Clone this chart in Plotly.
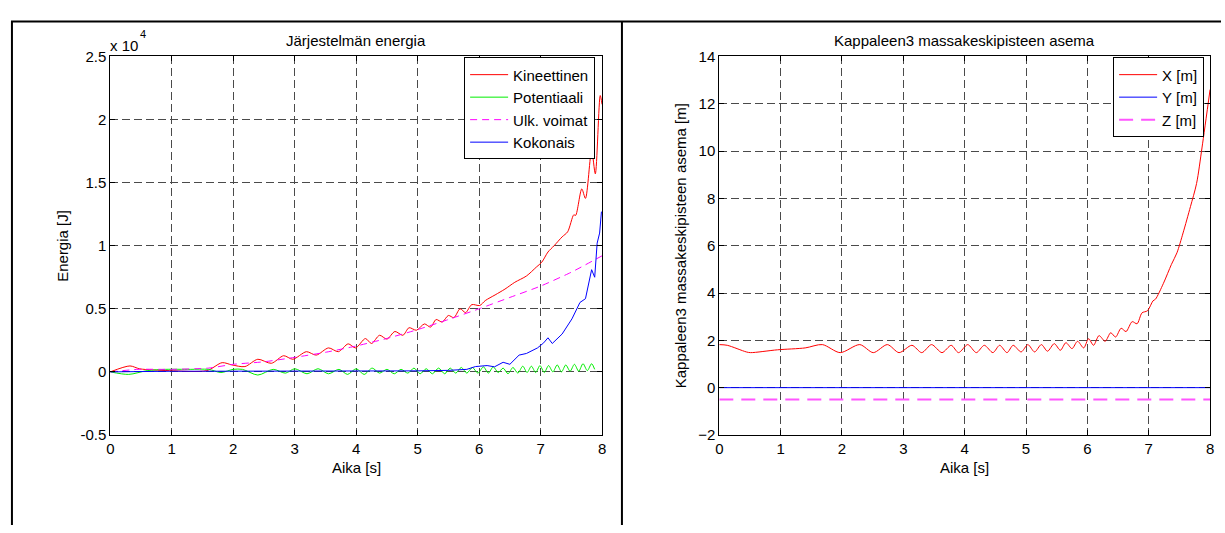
import plotly.graph_objects as go

W, H = 1225, 533

# ---------------- Data: left panel (energy, units of 1e4 J) ----------------
t_kin = [0, 0.32, 0.48, 0.96, 1.57, 1.82, 1.98, 2.19, 2.40, 2.62, 2.82, 2.97, 3.19, 3.35,
         3.55, 3.71, 3.87, 3.99, 4.15, 4.25, 4.38, 4.50, 4.63, 4.76, 4.86, 4.98, 5.11, 5.21,
         5.30, 5.40, 5.50, 5.59, 5.69, 5.78, 5.88, 6.01, 6.10, 6.26, 6.42, 6.58, 6.77, 6.93,
         7.02, 7.12, 7.22, 7.35, 7.44, 7.54, 7.57, 7.67, 7.73, 7.83, 7.89, 7.97, 8.0]
kin = [0, 0.047, 0.024, 0.01, 0.01, 0.073, 0.055, 0.042, 0.10, 0.068, 0.128, 0.10, 0.16, 0.133,
       0.19, 0.16, 0.222, 0.19, 0.264, 0.225, 0.29, 0.26, 0.32, 0.29, 0.35, 0.33, 0.38, 0.355,
       0.415, 0.395, 0.447, 0.43, 0.50, 0.47, 0.533, 0.526, 0.565, 0.61, 0.656, 0.71, 0.76, 0.83,
       0.87, 0.95, 1.0, 1.07, 1.11, 1.245, 1.24, 1.45, 1.375, 1.755, 1.57, 2.19, 2.12]

t_pot = [0, 0.3, 0.6, 0.9, 1.3, 1.6, 1.8, 2.0, 2.15, 2.4, 2.65, 2.85, 3.0, 3.2, 3.38, 3.55,
         3.72, 3.86, 4.0, 4.13, 4.26, 4.38, 4.5, 4.62, 4.73, 4.84, 4.94, 5.04, 5.14, 5.24, 5.34,
         5.44, 5.53, 5.62, 5.71, 5.8, 5.89, 5.98, 6.07, 6.15, 6.23, 6.31, 6.39, 6.47, 6.55, 6.63,
         6.71, 6.78, 6.85, 6.92, 6.99, 7.06, 7.13, 7.2, 7.27, 7.34, 7.41, 7.48, 7.55, 7.62, 7.69,
         7.76, 7.83, 7.88]
pot = [0, -0.02, 0.01, 0.02, 0.02, 0.02, -0.005, 0.02, 0.02, -0.025, 0.02, -0.01, 0.025, -0.015,
       0.025, -0.015, 0.02, -0.02, 0.025, -0.02, 0.03, -0.01, 0.02, -0.015, 0.02, -0.01, 0.03,
       -0.015, 0.025, -0.015, 0.03, -0.015, 0.03, -0.01, 0.035, -0.01, 0.035, -0.01, 0.04, -0.01,
       0.04, -0.005, 0.03, -0.015, 0.035, -0.01, 0.045, -0.005, 0.045, -0.005, 0.05, -0.005, 0.05,
       0.0, 0.055, 0.0, 0.055, 0.005, 0.06, 0.005, 0.065, 0.01, 0.065, 0.02]

t_ulk = [0, 0.45, 1.0, 1.6, 2.0, 2.5, 3.0, 3.5, 4.0, 4.5, 5.0, 5.5, 6.0, 6.5, 7.0, 7.5, 8.0]
ulk = [0, 0.02, 0.02, 0.03, 0.06, 0.08, 0.115, 0.155, 0.205, 0.265, 0.335, 0.415, 0.50, 0.59,
       0.68, 0.79, 0.92]

t_tot = [0, 0.5, 1.0, 1.5, 2.0, 2.5, 3.0, 3.5, 4.0, 4.5, 5.0, 5.5, 5.8, 5.94, 6.13, 6.25, 6.39,
         6.5, 6.65, 6.77, 6.95, 7.05, 7.12, 7.19, 7.35, 7.51, 7.64, 7.73, 7.83, 7.88, 7.92, 7.96, 7.99]
tot = [0, 0.005, 0.005, 0.005, 0.005, 0.005, 0.005, 0.005, 0.005, 0.005, 0.008, 0.012, 0.02,
       0.042, 0.05, 0.04, 0.076, 0.06, 0.133, 0.146, 0.19, 0.23, 0.27, 0.225, 0.30, 0.42, 0.55,
       0.58, 0.81, 0.75, 1.02, 1.10, 1.27]

energy_ticks = [-0.5, 0, 0.5, 1, 1.5, 2, 2.5]
energy_ticktext = ["-0.5", "0", "0.5", "1", "1.5", "2", "2.5"]

# ---------------- Data: right panel (position, m) ----------------
t_x = [0, 0.13, 0.44, 0.51, 0.95, 1.4, 1.68, 1.97, 2.29, 2.51, 2.74, 2.93, 3.14, 3.30, 3.46,
       3.63, 3.78, 3.90, 4.05, 4.19, 4.32, 4.46, 4.57, 4.69, 4.79, 4.92, 5.03, 5.14, 5.25, 5.35,
       5.46, 5.56, 5.65, 5.75, 5.84, 5.94, 6.02, 6.10, 6.19, 6.29, 6.38, 6.46, 6.55, 6.63, 6.73,
       6.81, 6.89, 6.98, 7.07, 7.11, 7.24, 7.37, 7.46, 7.56, 7.68, 7.78, 7.87, 8.0]
pos_x = [1.82, 1.79, 1.51, 1.48, 1.60, 1.68, 1.82, 1.48, 1.82, 1.48, 1.82, 1.48, 1.79, 1.48, 1.82,
         1.48, 1.79, 1.48, 1.82, 1.48, 1.79, 1.48, 1.79, 1.48, 1.79, 1.51, 1.82, 1.51, 1.82, 1.54,
         1.86, 1.58, 1.90, 1.65, 1.96, 1.68, 2.07, 1.79, 2.20, 1.96, 2.32, 2.14, 2.51, 2.37, 2.79,
         2.70, 3.16, 3.25, 3.67, 3.74, 4.41, 5.21, 5.70, 6.54, 7.65, 8.63, 10.17, 12.6]
t_yz = [0, 8]
pos_y = [0, 0]
pos_z = [-0.5, -0.5]

# ---------------- Figure ----------------
FONT = "Liberation Sans, Arial, Helvetica, sans-serif"
fig = go.Figure()

fig.add_trace(go.Scatter(x=t_kin, y=kin, name="Kineettinen", mode="lines",
                         line=dict(color="#ff0000", width=1, shape="spline", smoothing=0.8),
                         xaxis="x", yaxis="y", legend="legend"))
fig.add_trace(go.Scatter(x=t_pot, y=pot, name="Potentiaali", mode="lines",
                         line=dict(color="#00ee00", width=1, shape="spline", smoothing=0.8),
                         xaxis="x", yaxis="y", legend="legend"))
fig.add_trace(go.Scatter(x=t_ulk, y=ulk, name="Ulk. voimat", mode="lines",
                         line=dict(color="#ff00ff", width=1, dash="7px,5px", shape="spline",
                                   smoothing=0.6),
                         xaxis="x", yaxis="y", legend="legend"))
fig.add_trace(go.Scatter(x=t_tot, y=tot, name="Kokonais", mode="lines",
                         line=dict(color="#0000ff", width=1),
                         xaxis="x", yaxis="y", legend="legend"))

fig.add_trace(go.Scatter(x=t_x, y=pos_x, name="X [m]", mode="lines",
                         line=dict(color="#ff0000", width=1, shape="spline", smoothing=0.8),
                         xaxis="x2", yaxis="y2", legend="legend2"))
fig.add_trace(go.Scatter(x=t_yz, y=pos_y, name="Y [m]", mode="lines",
                         line=dict(color="#0000ff", width=1), xaxis="x2", yaxis="y2", legend="legend2"))
fig.add_trace(go.Scatter(x=t_yz, y=pos_z, name="Z [m]", mode="lines",
                         line=dict(color="#ff55ff", width=2, dash="14px,8px"), xaxis="x2", yaxis="y2",
                         legend="legend2"))

px = lambda v: v / W
py = lambda v: 1 - v / H

L0, L1 = 107, 602
R0, R1 = 720, 1214
T, B = 49, 440

axis_common = dict(showline=True, linecolor="black", linewidth=1, mirror="ticks",
                   ticks="inside", ticklen=5, tickcolor="black",
                   showgrid=True, gridcolor="#4a4a4a", gridwidth=1, griddash="8px,4px",
                   zeroline=False, tickfont=dict(family=FONT, size=15, color="black"))

legend_common = dict(yanchor="top", xanchor="right", bgcolor="white", bordercolor="black",
                     borderwidth=1, font=dict(family=FONT, size=15), tracegroupgap=0,
                     itemwidth=38)

fig.update_layout(
    width=W, height=H, autosize=False,
    margin=dict(l=0, r=0, t=0, b=0),
    paper_bgcolor="white", plot_bgcolor="white",
    font=dict(family=FONT, size=15, color="black"),
    xaxis=dict(domain=[px(L0), px(L1)], range=[0, 8], tickvals=list(range(9)), anchor="y",
               **axis_common),
    yaxis=dict(domain=[py(B), py(T)], range=[-0.5, 2.5], tickvals=energy_ticks,
               ticktext=energy_ticktext, anchor="x", **axis_common),
    xaxis2=dict(domain=[px(R0), px(R1)], range=[0, 8], tickvals=list(range(9)), anchor="y2",
                **axis_common),
    yaxis2=dict(domain=[py(B), py(T)], range=[-2, 14], tickvals=list(range(-2, 15, 2)),
                anchor="x2", **axis_common),
    legend=dict(x=px(595), y=py(50), **legend_common),
    legend2=dict(x=px(1208), y=py(50), **legend_common),
    showlegend=True,
)

def ann(text, x, y, size=15, angle=0, xanchor="center", yanchor="middle"):
    fig.add_annotation(text=text, x=px(x), y=py(y), xref="paper", yref="paper",
                       showarrow=False, textangle=angle, xanchor=xanchor, yanchor=yanchor,
                       font=dict(family=FONT, size=size, color="black"))

ann("Järjestelmän energia", (L0 + L1) / 2, 33)
ann("Kappaleen3 massakeskipisteen asema", (R0 + R1) / 2, 33)
ann("Aika [s]", (L0 + L1) / 2, 474)
ann("Aika [s]", (R0 + R1) / 2, 474)
ann("Energia [J]", 59.5, (T + B) / 2, angle=-90)
ann("Kappaleen3 massakeskipisteen asema [m]", 681, (T + B) / 2, angle=-90)
ann("x 10", 105, 38, xanchor="left")
ann("4", 140, 26, size=11)

# panel borders
for (x0, y0, x1, y1) in [(7, 13, 1225, 13), (8, 13, 8, 533), (622, 13, 622, 533)]:
    fig.add_shape(type="line", xref="paper", yref="paper", x0=px(x0), y0=py(y0),
                  x1=px(x1), y1=py(y1), line=dict(color="black", width=2))

fig.write_html("out.html", config={"displayModeBar": False},
               post_script="document.body.style.margin='0';document.body.style.overflow='hidden';")
